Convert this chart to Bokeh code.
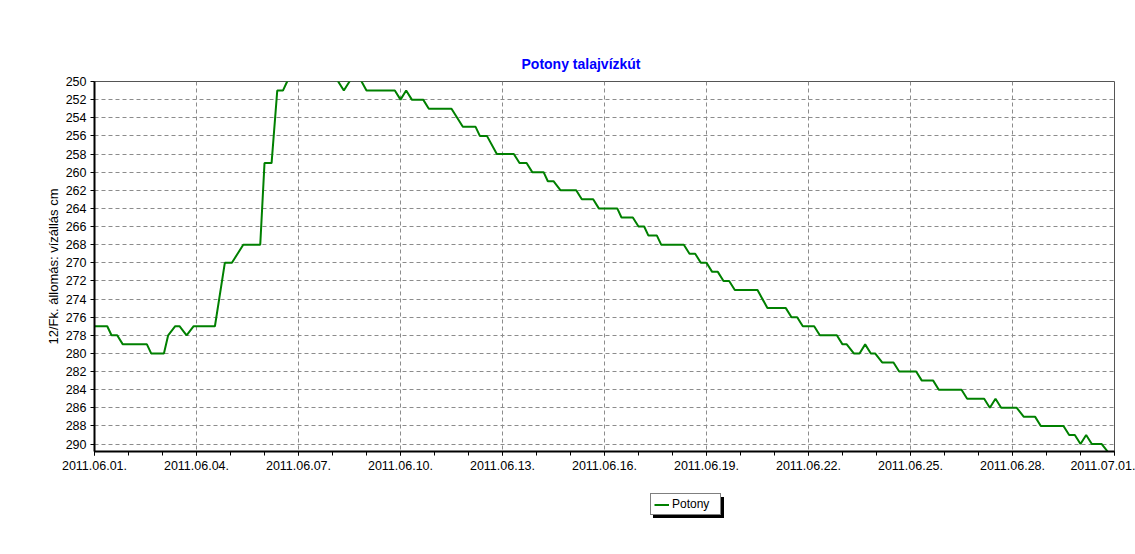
import pandas as pd
from bokeh.plotting import figure
from bokeh.layouts import column
from bokeh.models import Range1d, FixedTicker, DatetimeTickFormatter, Legend, LegendItem, ColumnDataSource
from bokeh.embed import file_html
from bokeh.resources import INLINE

# hours since 2011-06-01 00:00 and water level (cm below reference)
hours = [0, 9, 12, 16, 20, 37, 40, 49, 52, 57, 60, 65, 70, 85, 92, 97, 105, 117, 120, 125,
         129, 133, 136, 140, 152, 163, 168, 176, 180, 185, 192, 212, 216, 220, 224, 232, 236,
         252, 260, 269, 272, 277, 284, 296, 300, 305, 309, 317, 320, 324, 329, 340, 344, 352,
         356, 369, 372, 380, 384, 388, 391, 397, 400, 416, 420, 424, 428, 432, 436, 440, 444,
         448, 452, 468, 475, 488, 492, 496, 500, 508, 512, 524, 528, 531, 536, 540, 544, 548,
         551, 556, 564, 568, 580, 584, 592, 596, 612, 616, 628, 632, 636, 640, 651, 656, 664,
         668, 684, 688, 692, 696, 700, 704, 711, 716, 720]
levels = [277, 277, 278, 278, 279, 279, 280, 280, 278, 277, 277, 278, 277, 277, 270, 270, 268, 268, 259, 259,
          251, 251, 250, 249, 248, 248, 249, 251, 250, 249, 251, 251, 252, 251, 252, 252, 253,
          253, 255, 255, 256, 256, 258, 258, 259, 259, 260, 260, 261, 261, 262, 262, 263, 263,
          264, 264, 265, 265, 266, 266, 267, 267, 268, 268, 269, 269, 270, 270, 271, 271, 272,
          272, 273, 273, 275, 275, 276, 276, 277, 277, 278, 278, 279, 279, 280, 280, 279, 280,
          280, 281, 281, 282, 282, 283, 283, 284, 284, 285, 285, 286, 285, 286, 286, 287, 287,
          288, 288, 289, 289, 290, 289, 290, 290, 291, 291]

title_text = "Potony talajvízkút"
y_label = "12/Fk. állomás: vízállás cm"
series_name = "Potony"
y_ticks = list(range(250, 292, 2))

start = pd.Timestamp("2011-06-01")
end = pd.Timestamp("2011-07-01")
times = [start + pd.Timedelta(hours=h) for h in hours]
src = ColumnDataSource(dict(t=times, v=levels))

FONT = "Liberation Sans"
LINE_COLOR = "#008000"

p = figure(frame_width=1020, frame_height=370, x_axis_type="datetime", output_backend="svg",
           toolbar_location=None, tools="",
           x_range=Range1d(start, end), y_range=Range1d(290.82, 250),
           min_border_left=94, min_border_right=21, min_border_top=81, min_border_bottom=24)

p.title.text = title_text
p.title.text_font = FONT
p.title.text_font_size = "14px"
p.title.text_font_style = "bold"
p.title.text_color = "#0000ff"
p.title.align = "left"
p.title.offset = 427
p.title.standoff = 20

p.outline_line_color = "#555555"
p.outline_line_width = 1
p.background_fill_color = "white"
p.border_fill_color = "white"

day_ms = 86400000
start_ms = int(start.value // 10**6)
major = [start_ms + i * 3 * day_ms for i in range(11)]
minor = [start_ms + i * day_ms for i in range(31)]
p.xaxis.ticker = FixedTicker(ticks=major, minor_ticks=minor)
fmt = "%Y.%m.%d."
p.xaxis.formatter = DatetimeTickFormatter(days=fmt, months=fmt, years=fmt, hours=fmt,
                                          hourmin=fmt, minutes=fmt, minsec=fmt, seconds=fmt,
                                          milliseconds=fmt, microseconds=fmt, context=None)
p.yaxis.ticker = FixedTicker(ticks=y_ticks)
p.yaxis.axis_label = y_label

for ax in (p.xaxis, p.yaxis):
    ax.axis_line_color = "black"
    ax.axis_line_width = 2
    ax.major_tick_line_color = "black"
    ax.major_tick_out = 4
    ax.major_tick_in = 0
    ax.major_label_text_font = FONT
    ax.major_label_text_font_size = "12.5px"
    ax.major_label_text_color = "black"
    ax.axis_label_text_font = FONT
    ax.axis_label_text_font_size = "13px"
    ax.axis_label_text_font_style = "normal"
    ax.axis_label_text_color = "black"
p.xaxis.minor_tick_line_color = "black"
p.xaxis.minor_tick_out = 4
p.xaxis.minor_tick_in = 0
p.yaxis.minor_tick_line_color = None
p.xaxis.major_label_standoff = 5
p.yaxis.major_label_standoff = 4
p.yaxis.axis_label_standoff = 2

for g in (p.xgrid, p.ygrid):
    g.grid_line_color = "#8c8c8c"
    g.grid_line_dash = "4 3"
    g.grid_line_width = 1
p.xgrid.ticker = FixedTicker(ticks=major)
p.ygrid.ticker = FixedTicker(ticks=y_ticks)

r = p.line("t", "v", source=src, line_color=LINE_COLOR, line_width=2)

# legend strip below the chart: same series and line style, drawn off-range so only the key shows
p2 = figure(width=1135, height=78, output_backend="svg", toolbar_location=None, tools="",
            x_axis_type="datetime", x_range=Range1d(0, 1), y_range=Range1d(0, 1), min_border=0)
p2.axis.visible = False
p2.grid.visible = False
p2.outline_line_color = None
p2.background_fill_color = "white"
p2.border_fill_color = "white"
r2 = p2.line("t", "v", source=src, line_color=LINE_COLOR, line_width=2)

def make_legend(label, loc, bg):
    return Legend(items=[LegendItem(label=label, renderers=[r2])], location=loc,
                  background_fill_color=bg, background_fill_alpha=1,
                  border_line_color="black", border_line_width=1,
                  label_text_font=FONT, label_text_font_size="12px", label_text_color="black",
                  padding=3, spacing=0, margin=0, glyph_width=15, glyph_height=13,
                  label_height=13, label_standoff=3, label_width=45)

p2.add_layout(make_legend(" ", (559, 35), "black"), "center")
p2.add_layout(make_legend(series_name, (556, 38), "white"), "center")

layout = column(p, p2, spacing=0)
open("out.html", "w").write(file_html(layout, INLINE))
